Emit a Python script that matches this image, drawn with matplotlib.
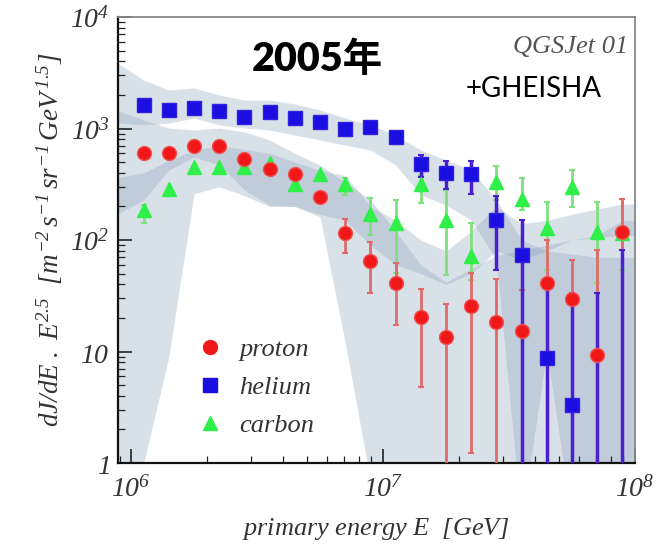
import numpy as np
import matplotlib
matplotlib.use("Agg")
import matplotlib.pyplot as plt
from matplotlib.lines import Line2D

# ---------------- data ----------------
# bin centres (log10 of primary energy in GeV)
logE = [6.05, 6.15, 6.25, 6.35, 6.45, 6.55, 6.65, 6.75, 6.85, 6.95,
        7.05, 7.15, 7.25, 7.35, 7.45, 7.55, 7.65, 7.75, 7.85, 7.95]

proton = [603, 603, 697, 697, 533, 433, 391, 243, 116, 65,
          41, 20.4, 13.5, 25.6, 18.4, 15.3, 41, 29.6, 9.3, 118]
proton_hi = [603, 603, 697, 697, 533, 433, 391, 260, 154, 96,
             62, 36.4, 26.7, 50.6, 44.7, 35.6, 100, 66, 81, 233]
proton_lo = [603, 603, 697, 697, 533, 433, 391, 228, 76, 33.5,
             17.3, 4.8, 0.3, 1.23, 0.3, 0.3, 0.3, 0.3, 0.3, 0.3]

helium = [1625, 1466, 1528, 1435, 1268, 1406, 1242, 1143, 990, 1031,
          839, 481, 399, 391, 151, 73, 8.7, 3.3, 0.5, 0.5]
helium_hi = [1625, 1466, 1528, 1435, 1268, 1406, 1242, 1143, 990, 1031,
             839, 578, 511, 511, 248, 151, 36, 33.5, 33.5, 81]
helium_lo = [1625, 1466, 1528, 1435, 1268, 1406, 1242, 1143, 990, 1031,
             839, 367, 287, 259, 53.8, 0.3, 0.3, 0.3, 0.3, 0.3]

carbon = [186, 287, 451, 451, 451, 491, 318, 391, 318, 171,
          142, 318, 151, 72, 331, 233, 128, 299, 118, 115]
carbon_hi = [206, 287, 451, 451, 451, 491, 318, 391, 360, 238,
             228, 383, 281, 142, 461, 360, 219, 424, 219, 233]
carbon_lo = [142, 287, 451, 451, 451, 491, 318, 391, 253, 111,
             50.6, 215, 48.5, 43.8, 228, 186, 53.8, 198, 41, 54]

# systematic bands (log10 E nodes)
band_logE = [5.9, 6.05, 6.15, 6.25, 6.35, 6.45, 6.55, 6.65, 6.75, 6.85, 6.95,
             7.05, 7.15, 7.25, 7.35, 7.45, 7.55, 7.65, 7.75, 7.85, 7.95, 8.05]
he_band_up = [4500, 2720, 2215, 2310, 1997, 1800, 1800, 1660, 1466, 1242, 1075,
              875, 641, 522, 424, 228, 100, 80, 75, 70, 70, 70]
he_band_lo = [1150, 1075, 1120, 1242, 1075, 1010, 970, 875, 789, 711, 641,
              471, 253, 206, 151, 66, 0.3, 10, 0.3, 0.3, 0.3, 0.3]
p_band_up = [1600, 1192, 1010, 970, 1010, 933, 789, 600, 470, 330, 230,
             120, 60, 42, 55, 73, 81, 90, 100, 110, 150, 150]
p_band_lo = [150, 228, 424, 555, 471, 281, 206, 200, 161, 12, 0.7,
             0.3, 0.3, 0.3, 0.3, 0.3, 0.3, 0.3, 0.3, 0.3, 0.3, 0.3]
c_band_up = [350, 400, 520, 640, 700, 650, 600, 500, 420, 380, 200,
             150, 100, 80, 120, 200, 140, 150, 170, 190, 210, 210]
c_band_lo = [0.3, 1.0, 9, 260, 300, 250, 200, 200, 170, 150, 90,
             60, 50, 40, 50, 80, 66, 80, 100, 105, 110, 110]

x_ticks = [1e6, 1e7, 1e8]
x_ticklabels = [r'$10^{6}$', r'$10^{7}$', r'$10^{8}$']
y_ticks = [1, 10, 100, 1000, 10000]
y_ticklabels = [r'$1$', r'$10$', r'$10^{2}$', r'$10^{3}$', r'$10^{4}$']

# ---------------- style ----------------
plt.rcParams['mathtext.fontset'] = 'custom'
plt.rcParams['mathtext.rm'] = 'Liberation Serif:italic'
plt.rcParams['mathtext.it'] = 'Liberation Serif:italic'
plt.rcParams['mathtext.bf'] = 'Liberation Serif:italic:bold'

fig = plt.figure(figsize=(6.58, 5.49), dpi=100)
ax = fig.add_axes([0.1793, 0.1566, 0.7857, 0.8124])
ax.set_xscale('log')
ax.set_yscale('log')
ax.set_xlim(10**5.948, 1e8)
ax.set_ylim(1, 1e4)

E = [10**v for v in logE]
bE = [10**v for v in band_logE]

band_col = '#8ea4bc'
for lo, up in [(he_band_lo, he_band_up), (p_band_lo, p_band_up), (c_band_lo, c_band_up)]:
    ax.fill_between(bE, lo, up, color=band_col, alpha=0.33, lw=0, zorder=1)

def err(vals, lo, hi):
    v = np.array(vals, float)
    return [v - np.array(lo, float), np.array(hi, float) - v]

ax.errorbar(E, carbon, yerr=err(carbon, carbon_lo, carbon_hi), fmt='none',
            ecolor='#7fe07f', elinewidth=2, capsize=2, capthick=1.5, zorder=3)
ax.errorbar(E, proton, yerr=err(proton, proton_lo, proton_hi), fmt='none',
            ecolor='#e06a6a', elinewidth=2, capsize=2, capthick=1.5, zorder=3)
ax.errorbar(E, helium, yerr=err(helium, helium_lo, helium_hi), fmt='none',
            ecolor='#4a1fcf', elinewidth=2.5, capsize=2, capthick=1.5, zorder=3)

ax.plot(E, carbon, ls='none', marker='^', ms=10, color='#2ef048', mec='#2ef048', zorder=4)
ax.plot(E, proton, ls='none', marker='o', ms=10, color='#f01818', mec='#f05050', zorder=5)
ax.plot(E, helium, ls='none', marker='s', ms=10, color='#1a0fe0', mec='#3020e0', zorder=6)

# axes, ticks
ax.set_xticks(x_ticks)
ax.set_xticklabels(x_ticklabels)
ax.set_yticks(y_ticks)
ax.set_yticklabels(y_ticklabels)
ax.tick_params(which='both', direction='in', top=False, right=False, colors='#222',
               labelcolor='#333', labelsize=20)
ax.tick_params(which='major', length=10, width=1.2, pad=6)
ax.tick_params(which='minor', length=5, width=0.9)
ax.tick_params(axis='x', which='major', pad=8)
for s in ['left', 'bottom']:
    ax.spines[s].set_color('#111')
    ax.spines[s].set_linewidth(1.6)
for s in ['top', 'right']:
    ax.spines[s].set_color('#888')
    ax.spines[s].set_linewidth(1.3)

ax.set_xlabel(r'$primary\ energy\ E\ \ [GeV]$', fontsize=19, color='#333', labelpad=10)
ax.set_ylabel(r'$dJ/dE\ .\ E^{2.5}\ \ [m^{-2}\,s^{-1}\,sr^{-1}\,GeV^{\,1.5}]$',
              fontsize=19.5, color='#333', labelpad=4)

# annotations
fig.text(252/658, 1 - 59/549, '2005年', fontsize=28.5, fontweight='heavy',
         family=['Lato', 'Noto Sans CJK SC'], va='center', ha='left', color='black')
fig.text(628/658, 1 - 47/549, 'QGSJet 01', fontsize=19, style='italic',
         family='Liberation Serif', color='#555', ha='right', va='center')
fig.text(466/658, 1 - 89/549, '+GHEISHA', fontsize=20, family=['Lato'],
         color='black', ha='left', va='center')

handles = [Line2D([], [], ls='none', marker='o', ms=10, color='#f01818'),
           Line2D([], [], ls='none', marker='s', ms=10, color='#1a0fe0'),
           Line2D([], [], ls='none', marker='^', ms=10, color='#2ef048')]
leg = ax.legend(handles, ['proton', 'helium', 'carbon'], loc='upper left',
                bbox_to_anchor=(0.107, 0.335), frameon=False, handlelength=1.0,
                handletextpad=0.6, labelspacing=0.55,
                prop={'family': 'Liberation Serif', 'style': 'italic', 'size': 19})
for t in leg.get_texts():
    t.set_color('#333')

fig.savefig('out.png', dpi=100)
